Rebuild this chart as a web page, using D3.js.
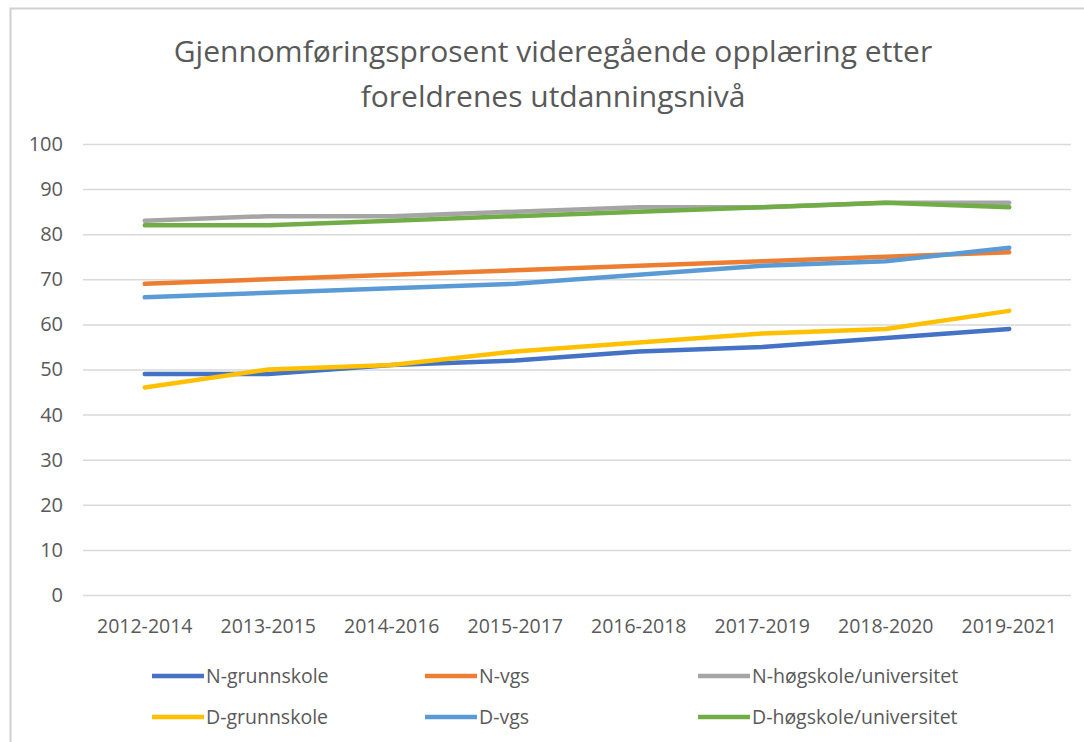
<!DOCTYPE html>
<html>
<head>
<meta charset="utf-8">
<script src="https://cdn.jsdelivr.net/npm/d3@7"></script>
<style>
    body { margin: 0; background: #fff; }
    text { font-family: "Open Sans", "Noto Sans", sans-serif; fill: #595959; }
</style>
</head>
<body>
<div id="chart"></div>
<script>
// categories (x axis)
const periods = ["2012-2014", "2013-2015", "2014-2016", "2015-2017", "2016-2018", "2017-2019", "2018-2020", "2019-2021"];

// series values
const nGrunnskole = [49, 49, 51, 52, 54, 55, 57, 59];
const nVgs = [69, 70, 71, 72, 73, 74, 75, 76];
const nHogskole = [83, 84, 84, 85, 86, 86, 87, 87];
const dGrunnskole = [46, 50, 51, 54, 56, 58, 59, 63];
const dVgs = [66, 67, 68, 69, 71, 73, 74, 77];
const dHogskole = [82, 82, 83, 84, 85, 86, 87, 86];

const seriesNames = ["N-grunnskole", "N-vgs", "N-høgskole/universitet", "D-grunnskole", "D-vgs", "D-høgskole/universitet"];
const seriesColors = ["#4472c4", "#ed7d31", "#a5a5a5", "#ffc000", "#5b9bd5", "#70ad47"];
const yTicks = [0, 10, 20, 30, 40, 50, 60, 70, 80, 90, 100];

const titleLines = ["Gjennomføringsprosent videregående opplæring etter", "foreldrenes utdanningsnivå"];

let series = [nGrunnskole, nVgs, nHogskole, dGrunnskole, dVgs, dHogskole].map((vals, i) => ({
    name: seriesNames[i],
    color: seriesColors[i],
    values: vals.map((v, j) => ({key: periods[j], value: v}))
}));

const W = 1084, H = 742;
let margin = {top: 144, right: 13, bottom: 147, left: 83};
let width = W - margin.left - margin.right;
let height = H - margin.top - margin.bottom;

let svg = d3.select("#chart").append("svg")
    .attr("width", W)
    .attr("height", H);

// chart frame
svg.append("rect")
    .attr("x", 10.5)
    .attr("y", 8.5)
    .attr("width", W + 20)
    .attr("height", H + 20)
    .attr("fill", "#fff")
    .attr("stroke", "#d0d0d0")
    .attr("stroke-width", 2);

// title
svg.append("text")
    .attr("x", 553)
    .attr("y", 62)
    .attr("text-anchor", "middle")
    .attr("font-size", "30px")
    .selectAll("tspan")
    .data(titleLines)
    .join("tspan")
    .attr("x", 553)
    .attr("dy", (d, i) => i === 0 ? 0 : 45)
    .text(d => d);

let g = svg.append("g")
    .attr("transform", `translate(${margin.left}, ${margin.top})`);

let x = d3.scaleBand()
    .domain(periods)
    .range([0, width]);

let y = d3.scaleLinear()
    .domain([0, 100])
    .range([height, 0]);

// gridlines
g.append("g")
    .attr("class", "grid")
    .call(d3.axisLeft(y).tickValues(yTicks).tickSize(-width).tickFormat(""))
    .call(a => a.select(".domain").remove())
    .call(a => a.selectAll("line").attr("stroke", "#d9d9d9").attr("stroke-width", 1.5));

// y axis labels
g.append("g")
    .attr("class", "y-axis")
    .call(d3.axisLeft(y).tickValues(yTicks).tickSize(0).tickPadding(20))
    .call(a => a.select(".domain").remove())
    .call(a => a.selectAll("text").attr("font-size", "20px").style("fill", "#595959"));

// x axis labels
g.append("g")
    .attr("class", "x-axis")
    .attr("transform", `translate(0, ${height})`)
    .call(d3.axisBottom(x).tickSize(0).tickPadding(24))
    .call(a => a.select(".domain").remove())
    .call(a => a.selectAll("text").attr("font-size", "19.5px").style("fill", "#595959"));

// lines
let line = d3.line()
    .x(d => x(d.key) + x.bandwidth() / 2)
    .y(d => y(d.value));

g.selectAll(".line")
    .data(series)
    .join("path")
    .attr("class", "line")
    .attr("d", d => line(d.values))
    .attr("fill", "none")
    .attr("stroke", d => d.color)
    .attr("stroke-width", 4.5)
    .attr("stroke-linecap", "round")
    .attr("stroke-linejoin", "round");

// legend: 3 columns, 2 rows
let legend = svg.append("g").attr("class", "legend");
let items = legend.selectAll("g")
    .data(series)
    .join("g")
    .attr("transform", (d, i) => `translate(${152 + (i % 3) * 273}, ${676 + Math.floor(i / 3) * 41})`);

items.append("line")
    .attr("x1", 0)
    .attr("x2", 52)
    .attr("stroke", d => d.color)
    .attr("stroke-width", 4.5);

items.append("text")
    .attr("x", 54)
    .attr("dy", "0.35em")
    .attr("font-size", "19.5px")
    .text(d => d.name);
</script>
</body>
</html>
